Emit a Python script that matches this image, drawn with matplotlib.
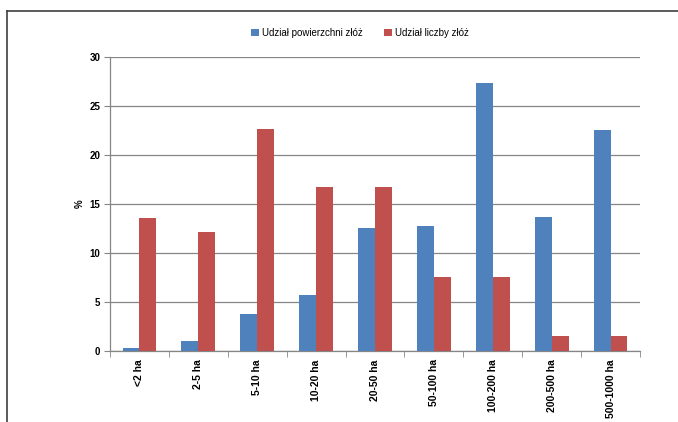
import numpy as np
import matplotlib.pyplot as plt
from matplotlib.lines import Line2D

# Size classes of deposits and their shares (%)
classes = ['<2 ha', '2-5 ha', '5-10 ha', '10-20 ha', '20-50 ha',
           '50-100 ha', '100-200 ha', '200-500 ha', '500-1000 ha']
area_share = [0.3, 1.0, 3.8, 5.7, 12.6, 12.8, 27.3, 13.7, 22.6]
count_share = [13.6, 12.1, 22.7, 16.7, 16.7, 7.6, 7.6, 1.5, 1.5]
y_ticks = [0, 5, 10, 15, 20, 25, 30]

plt.rcParams['font.family'] = ['Liberation Sans', 'DejaVu Sans']

fig = plt.figure(figsize=(6.78, 4.22), dpi=100)
W, H = 678, 422
ax = fig.add_axes([110 / W, 1 - 351 / H, 530 / W, 294 / H])

x = np.arange(len(classes))
bw = 0.286
ax.bar(x - bw / 2, area_share, bw, color='#4F81BD', label='Udział powierzchni złóż', zorder=3)
ax.bar(x + bw / 2, count_share, bw, color='#C0504D', label='Udział liczby złóż', zorder=3)

ax.set_xlim(-0.5, len(classes) - 0.5)
ax.set_ylim(0, 30)
ax.set_yticks(y_ticks)
ax.set_yticklabels([str(t) for t in y_ticks], fontsize=7, fontweight='bold')
ax.yaxis.grid(True, color='#868686', linewidth=0.9, zorder=0)

# category labels under each group, tick marks between groups
ax.set_xticks(x)
ax.set_xticklabels(classes, rotation=90, fontsize=7.5, fontweight='bold')
ax.tick_params(axis='x', length=0, pad=6)
ax.set_xticks(np.arange(-0.5, len(classes)), minor=True)
ax.tick_params(axis='x', which='minor', length=4, color='#868686', direction='out')
ax.tick_params(axis='y', length=4, color='#868686', direction='out', pad=3)

for side in ['top', 'right']:
    ax.spines[side].set_visible(False)
for side in ['left', 'bottom']:
    ax.spines[side].set_color('#868686')
    ax.spines[side].set_linewidth(0.9)

ax.set_ylabel('%', fontsize=7, fontweight='bold', labelpad=3)

fig.legend(loc='center', bbox_to_anchor=(360 / W, 1 - 33 / H), ncol=2, frameon=False,
           fontsize=7, handlelength=0.8, handleheight=0.8, handletextpad=0.3,
           columnspacing=2.2)

# outer chart frame
fig.add_artist(Line2D([7 / W, 7 / W], [0, 1 - 11 / H], color='#404040', linewidth=1.2))
fig.add_artist(Line2D([7 / W, 1], [1 - 11 / H, 1 - 11 / H], color='#404040', linewidth=1.2))

fig.savefig('out.png', dpi=100)
